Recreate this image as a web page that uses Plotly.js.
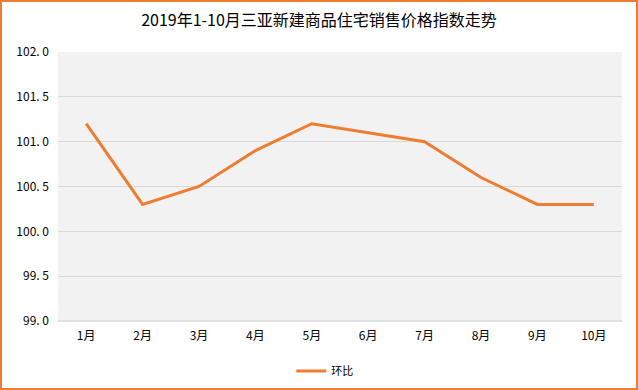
<!DOCTYPE html>
<html><head><meta charset="utf-8">
<script src="https://cdn.plot.ly/plotly-3.0.1.min.js"></script>
<style>
html,body{margin:0;padding:0;background:#fff;}
#wrap{width:638px;height:390px;box-sizing:border-box;border:2px solid #ED7D31;}
#chart{width:634px;height:386px;}
</style></head>
<body><div id="wrap"><div id="chart"></div></div>
<script>
const months = ['1月','2月','3月','4月','5月','6月','7月','8月','9月','10月'];
const huanbi = [101.2, 100.3, 100.5, 100.9, 101.2, 101.1, 101.0, 100.6, 100.3, 100.3];
const yTicks = [99.0, 99.5, 100.0, 100.5, 101.0, 101.5, 102.0];
const yTickText = ['99. 0','99. 5','100. 0','100. 5','101. 0','101. 5','102. 0'];

const font = '"Noto Sans CJK SC", "Noto Sans", sans-serif';
Plotly.newPlot('chart', [{
  x: months, y: huanbi, type: 'scatter', mode: 'lines', name: '环比',
  line: {color: '#ED7D31', width: 3}
}], {
  width: 634, height: 386,
  margin: {l: 56, r: 14, t: 50, b: 67},
  paper_bgcolor: '#ffffff', plot_bgcolor: '#f2f2f2',
  font: {family: font, color: '#000', size: 12},
  title: {text: '2019年1-10月三亚新建商品住宅销售价格指数走势', font: {size: 16, family: font, color: '#000'}, x: 0.5, xanchor: 'center', y: 1 - 18/386, yanchor: 'middle'},
  xaxis: {type: 'category', range: [-0.5, 9.5], showgrid: false, zeroline: false, showline: false, ticks: '', tickfont: {size: 12}, ticklabelstandoff: 6},
  yaxis: {range: [99, 102], tickvals: yTicks, ticktext: yTickText, showgrid: true, gridcolor: '#d9d9d9', gridwidth: 1, zeroline: false, showline: false, ticks: '', tickfont: {size: 12}, ticklabelstandoff: 8},
  showlegend: true,
  legend: {orientation: 'h', x: 0.473, xanchor: 'center', xref: 'paper', yref: 'container', y: 1 - 369/386, yanchor: 'middle', font: {size: 11}},
  shapes: [
    {type: 'line', xref: 'paper', yref: 'paper', x0: 0, x1: 1, y0: 0, y1: 0, line: {color: '#d9d9d9', width: 1.5}}
  ]
}, {displayModeBar: false, staticPlot: true});
</script></body></html>
